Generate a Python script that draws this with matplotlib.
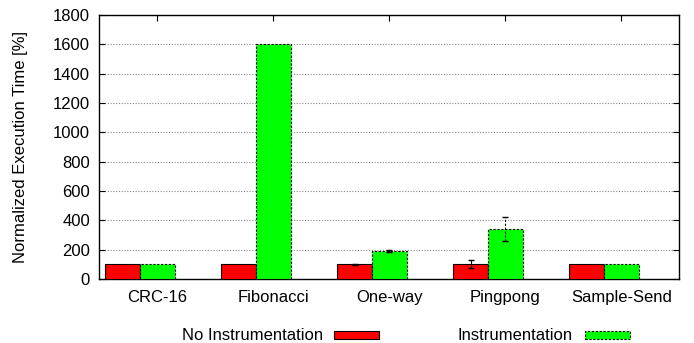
import matplotlib
matplotlib.use("Agg")
import matplotlib.pyplot as plt
import numpy as np
from matplotlib.patches import Rectangle

categories = ["CRC-16", "Fibonacci", "One-way", "Pingpong", "Sample-Send"]
no_instr = [100, 100, 100, 100, 100]
no_instr_err = [0, 0, 3, 27, 0]
instr = [100, 1600, 191, 341, 100]
instr_err = [0, 0, 8, 83, 0]
yticks = [0, 200, 400, 600, 800, 1000, 1200, 1400, 1600, 1800]

plt.rcParams['font.family'] = ['Liberation Sans', 'DejaVu Sans']
plt.rcParams['font.size'] = 12

fig = plt.figure(figsize=(6.94, 3.43), dpi=100)
ax = fig.add_axes([99/694, 1-279/343, 580/694, 264/343])

x = np.arange(len(categories))
w = 0.3
ax.bar(x - w/2, no_instr, w, color='#ff0000', edgecolor='black', linewidth=0.8, zorder=3)
ax.bar(x + w/2, instr, w, color='#00ff00', edgecolor='black', linewidth=0.8, linestyle=(0, (2, 1.5)), zorder=3)
for xi, v, e in zip(x - w/2, no_instr, no_instr_err):
    if e > 0:
        ax.errorbar(xi, v, yerr=e, fmt='none', ecolor='black', elinewidth=0.8, capsize=2, zorder=4)
for xi, v, e in zip(x + w/2, instr, instr_err):
    if e > 0:
        eb = ax.errorbar(xi, v, yerr=e, fmt='none', ecolor='black', elinewidth=0.8, capsize=2, zorder=4)
        for lc in eb[2]:
            lc.set_linestyle((0, (2, 1.5)))

ax.set_xlim(-0.353, 4.647)
ax.set_ylim(0, 1800)
ax.set_yticks(yticks)
ax.set_xticks(x + w/2)
ax.set_xticklabels(categories)
ax.yaxis.grid(True, linestyle=(0, (1, 1.5)), color='#888888', linewidth=0.8, zorder=0)
ax.tick_params(direction='in', top=True, right=True, length=4, width=0.8)
ax.tick_params(axis='y', pad=6.5)
ax.tick_params(axis='x', pad=8)
for s in ax.spines.values():
    s.set_linewidth(1.0)
ax.set_ylabel("Normalized Execution Time [%]")
ax.yaxis.set_label_coords(-(99 - 28) / 580, 0.5)

# legend at bottom
fig.text(323/694, 1-335/343, "No Instrumentation", ha='right', va='center')
fig.patches.append(Rectangle((334/694, 1-339/343), 45/694, 8/343, transform=fig.transFigure,
                             facecolor='#ff0000', edgecolor='black', linewidth=0.8))
fig.text(573/694, 1-335/343, "Instrumentation", ha='right', va='center')
fig.patches.append(Rectangle((585/694, 1-339/343), 45/694, 8/343, transform=fig.transFigure,
                             facecolor='#00ff00', edgecolor='black', linewidth=0.8, linestyle=(0, (2, 1.5))))

fig.savefig("out.png", dpi=100)
